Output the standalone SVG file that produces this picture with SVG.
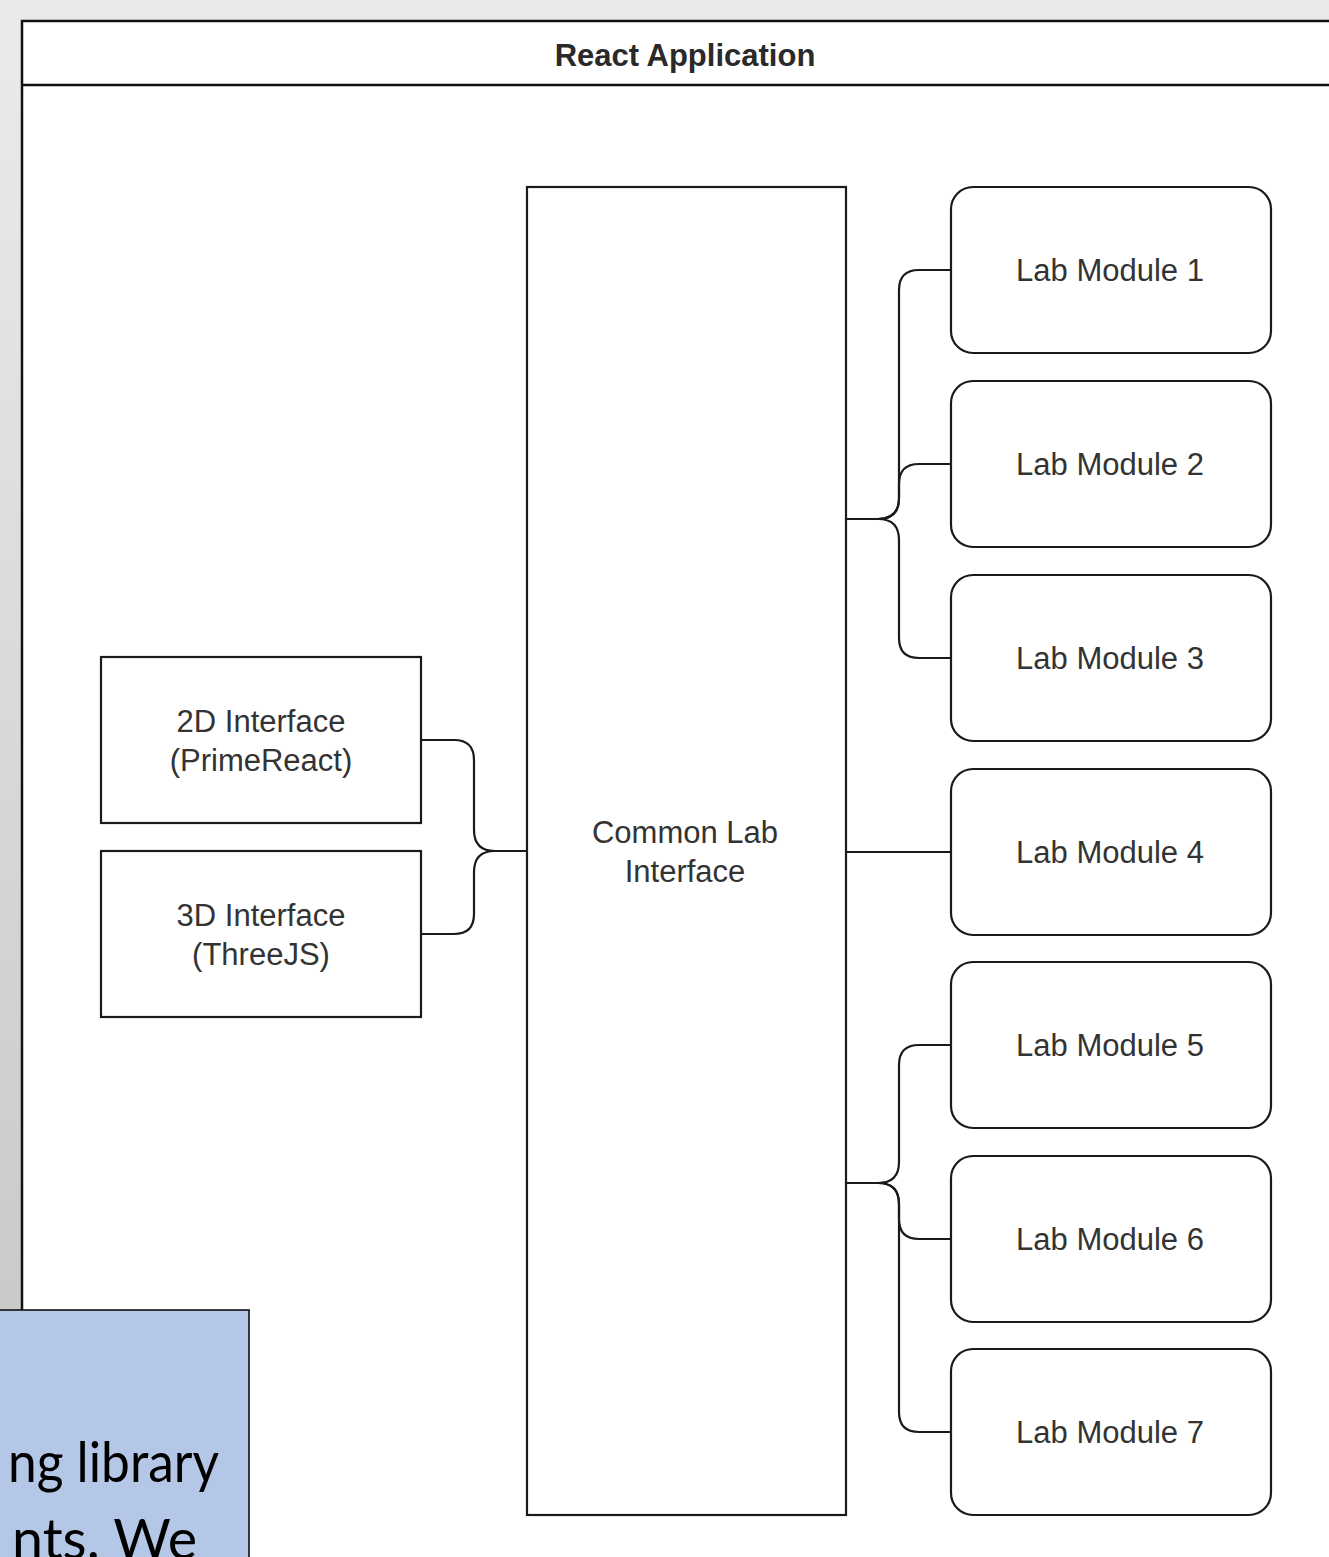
<svg xmlns="http://www.w3.org/2000/svg" width="1329" height="1557" viewBox="0 0 1329 1557">
<style>
.node{fill:#ffffff;stroke:#1a1a1a;stroke-width:2.2}
.lbl{font-family:"Liberation Sans",Arial,sans-serif;font-size:31px;fill:#333333;text-anchor:middle}
.hdr{font-family:"Liberation Sans",Arial,sans-serif;font-size:31px;font-weight:bold;fill:#2a2a2a;text-anchor:middle}
.edge{fill:none;stroke:#1a1a1a;stroke-width:2.2}
.note{font-family:Lato,"Open Sans",sans-serif;font-size:57px;fill:#000000}
</style>
<defs>
<linearGradient id="bg" x1="0" y1="0" x2="0" y2="1">
<stop offset="0" stop-color="#ebebeb"/>
<stop offset="1" stop-color="#c4c4c4"/>
</linearGradient>
<clipPath id="noteclip"><rect x="0" y="1311" width="249" height="246"/></clipPath>
</defs>
<rect x="0" y="0" width="1329" height="1557" fill="url(#bg)"/>
<g id="container">
<rect x="22" y="21" width="1330" height="1560" fill="#ffffff" stroke="#111111" stroke-width="2.5"/>
<line x1="22" y1="85" x2="1329" y2="85" stroke="#111111" stroke-width="2.5"/>
<text class="hdr" x="685" y="66">React Application</text>
</g>
<g id="connectors">
<path class="edge" d="M421,740 H454 Q474,740 474,760 V830 Q474,851 495,851 H527"/>
<path class="edge" d="M421,934 H454 Q474,934 474,914 V872 Q474,851 495,851 H527"/>
<path class="edge" d="M846,519 H878 Q899,519 899,498 V290 Q899,270 919,270 H951"/>
<path class="edge" d="M846,519 H878 Q899,519 899,498 V484 Q899,464 919,464 H951"/>
<path class="edge" d="M846,519 H878 Q899,519 899,540 V638 Q899,658 919,658 H951"/>
<path class="edge" d="M846,852 H951"/>
<path class="edge" d="M846,1183 H878 Q899,1183 899,1162 V1065 Q899,1045 919,1045 H951"/>
<path class="edge" d="M846,1183 H878 Q899,1183 899,1204 V1219 Q899,1239 919,1239 H951"/>
<path class="edge" d="M846,1183 H878 Q899,1183 899,1204 V1412 Q899,1432 919,1432 H951"/>
</g>
<g id="common">
<rect class="node" x="527" y="187" width="319" height="1328"/>
<text class="lbl" x="685" y="843">Common Lab</text>
<text class="lbl" x="685" y="882">Interface</text>
</g>
<g id="iface2d">
<rect class="node" x="101" y="657" width="320" height="166"/>
<text class="lbl" x="261" y="732">2D Interface</text>
<text class="lbl" x="261" y="771">(PrimeReact)</text>
</g>
<g id="iface3d">
<rect class="node" x="101" y="851" width="320" height="166"/>
<text class="lbl" x="261" y="926">3D Interface</text>
<text class="lbl" x="261" y="965">(ThreeJS)</text>
</g>
<g id="mod1"><rect class="node" x="951" y="187" width="320" height="166" rx="22"/><text class="lbl" x="1110" y="281">Lab Module 1</text></g>
<g id="mod2"><rect class="node" x="951" y="381" width="320" height="166" rx="22"/><text class="lbl" x="1110" y="475">Lab Module 2</text></g>
<g id="mod3"><rect class="node" x="951" y="575" width="320" height="166" rx="22"/><text class="lbl" x="1110" y="669">Lab Module 3</text></g>
<g id="mod4"><rect class="node" x="951" y="769" width="320" height="166" rx="22"/><text class="lbl" x="1110" y="863">Lab Module 4</text></g>
<g id="mod5"><rect class="node" x="951" y="962" width="320" height="166" rx="22"/><text class="lbl" x="1110" y="1056">Lab Module 5</text></g>
<g id="mod6"><rect class="node" x="951" y="1156" width="320" height="166" rx="22"/><text class="lbl" x="1110" y="1250">Lab Module 6</text></g>
<g id="mod7"><rect class="node" x="951" y="1349" width="320" height="166" rx="22"/><text class="lbl" x="1110" y="1443">Lab Module 7</text></g>
<g id="note">
<rect x="-2" y="1310" width="251" height="250" fill="#b4c7e7" stroke="#111111" stroke-width="1.6"/>
<g clip-path="url(#noteclip)">
<text class="note" x="8" y="1482" textLength="211" lengthAdjust="spacingAndGlyphs">ng library</text>
<text class="note" x="12" y="1559" textLength="185" lengthAdjust="spacingAndGlyphs">nts. We</text>
</g>
</g>
</svg>
